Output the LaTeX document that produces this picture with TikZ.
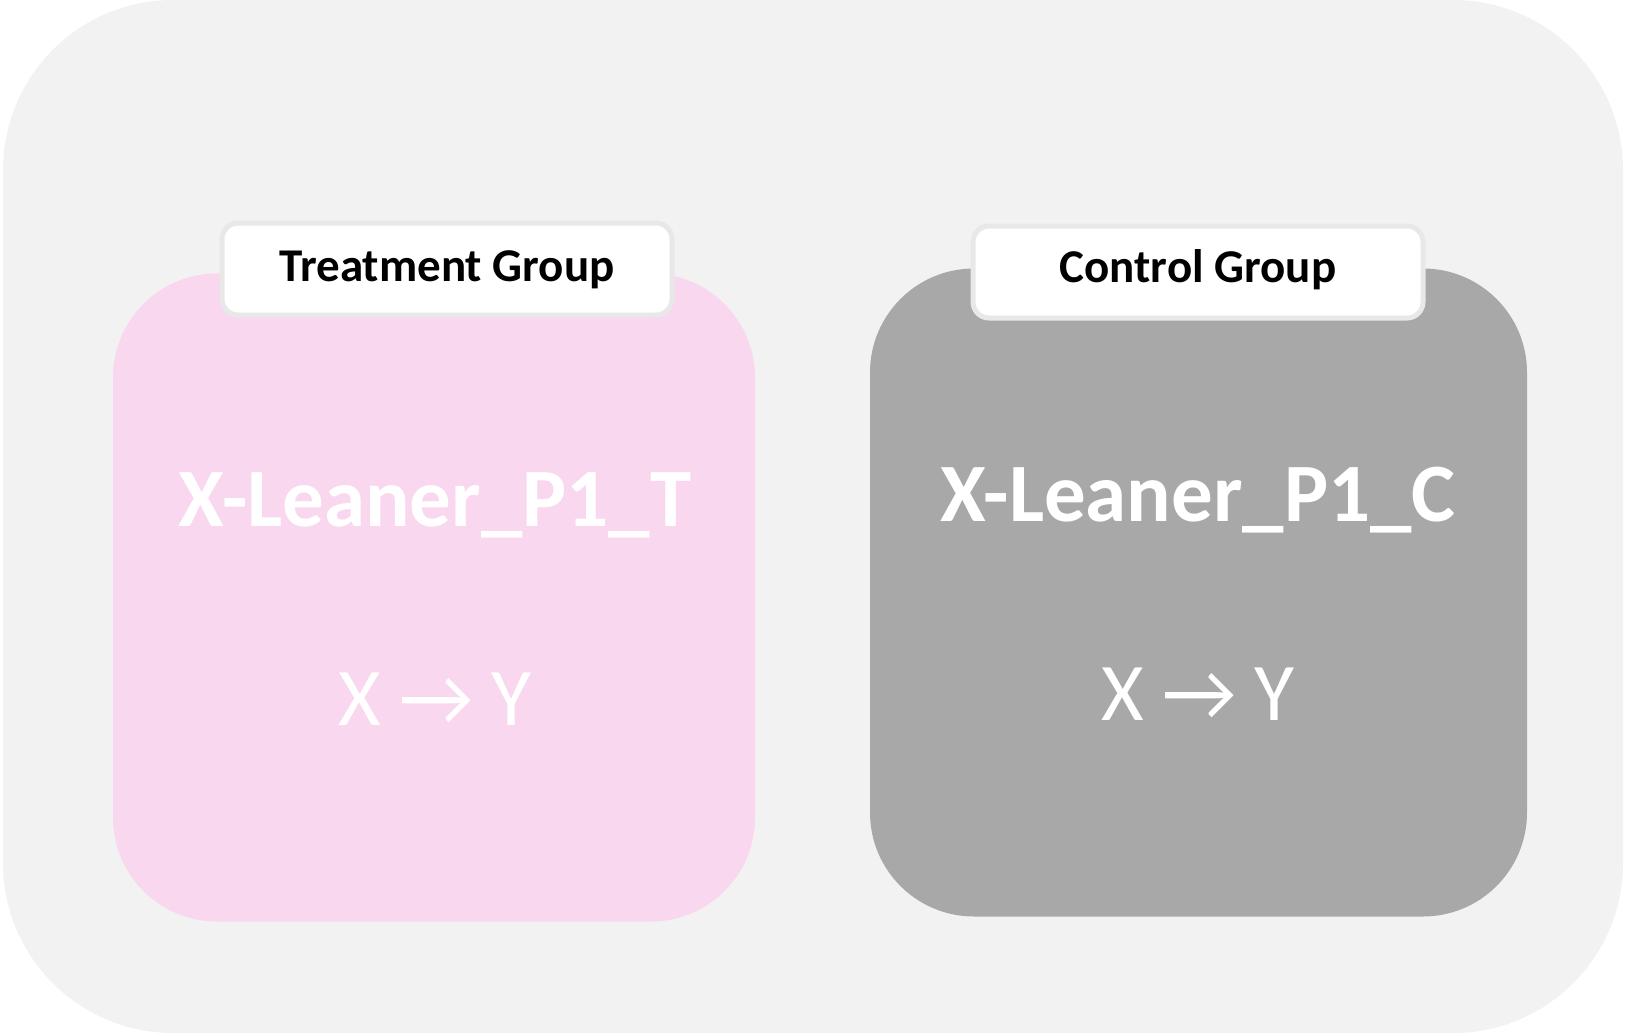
\documentclass[tikz,border=0pt]{standalone}
\usepackage{fontspec}
\setmainfont{Carlito}
\usepackage{tikz}

\definecolor{panelgrey}{HTML}{F2F2F2}
\definecolor{treatpink}{HTML}{F9D7EE}
\definecolor{controlgrey}{HTML}{A8A8A8}
\definecolor{tabedge}{HTML}{E8E8E8}

\tikzset{
	groupbox/.style={rounded corners=52pt, minimum width=#1, minimum height=324pt, inner sep=0pt},
	tab/.style={fill=white, draw=tabedge, line width=2.5pt, rounded corners=8pt,
		minimum width=225pt, minimum height=46pt, inner sep=0pt},
	tabtext/.style={anchor=base, font=\fontsize{23.5}{28}\selectfont\bfseries},
	armname/.style={anchor=base, text=white, font=\fontsize{41.5}{48}\selectfont\bfseries},
	effect/.style={anchor=base, text=white, font=\fontsize{41}{48}\selectfont}
}

\begin{document}
\begin{tikzpicture}[x=0.5pt, y=-0.5pt]
\useasboundingbox (0,0) rectangle (1627,1035);

\path (813,516.5) node[fill=panelgrey, rounded corners=85pt, minimum width=810pt,
			minimum height=516.5pt, inner sep=0pt] (panel) {}
		(434,597.5) node[groupbox=321pt, fill=treatpink] (treat) {}
		(1198.5,592.5) node[groupbox=328.5pt, fill=controlgrey] (control) {}
		(447,269) node[tab] (treattab) {}
		(1198,272) node[tab] (controltab) {};

\path (447,281) node[tabtext] (treatlabel) {Treatment Group}
		(1198,282) node[tabtext] (controllabel) {Control Group}
		(435,526) node[armname] (treatname) {X-Leaner\_P1\_T}
		(1198,521) node[armname] (controlname) {X-Leaner\_P1\_C}
		(435,725) node[effect] (treateffect) {X → Y}
		(1198,720) node[effect] (controleffect) {X → Y};
\end{tikzpicture}
\end{document}
